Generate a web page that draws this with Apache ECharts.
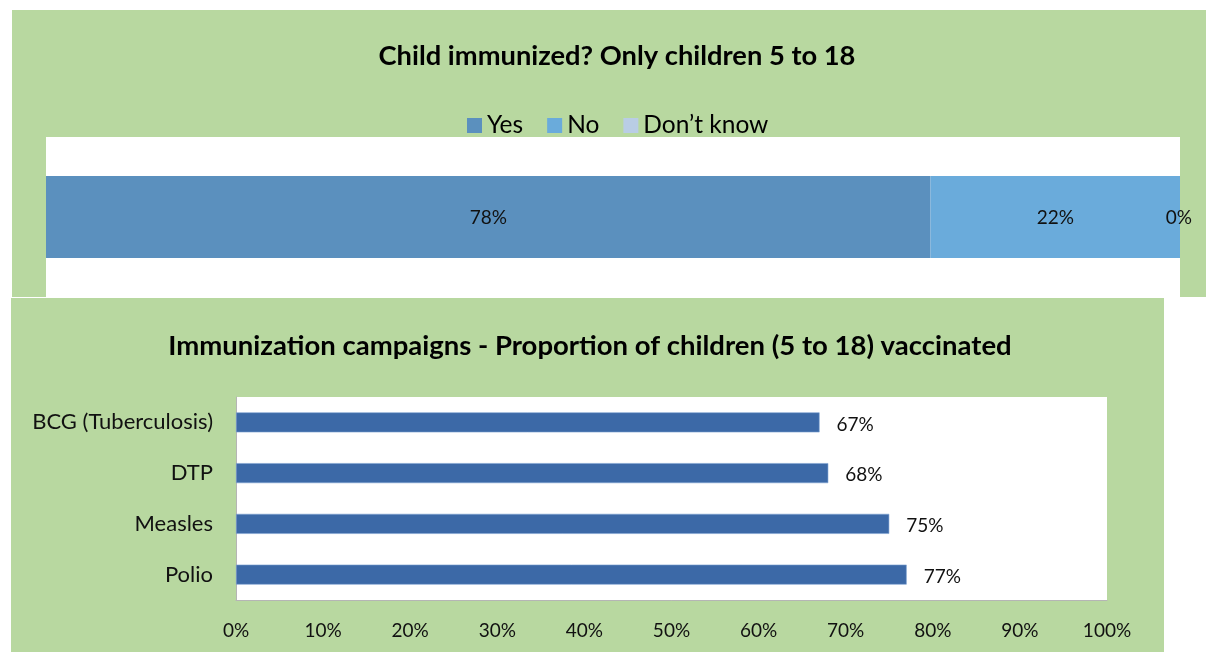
<!DOCTYPE html>
<html>
<head>
<meta charset="utf-8">
<script src="https://cdn.jsdelivr.net/npm/echarts@6/dist/echarts.min.js"></script>
<style>
  html, body { margin: 0; padding: 0; background: #ffffff; }
  #chart { width: 1206px; height: 652px; }
</style>
</head>
<body>
<div id="chart"></div>
<script>
// Top chart: immunization status of children 5 to 18 (100% stacked)
const statusNames = ['Yes', 'No', 'Don\u2019t know'];
const statusValues = [78, 22, 0];
const statusColors = ['#5b90be', '#6aabdb', '#b9cde5'];

// Bottom chart: vaccination campaign coverage
const vaccineNames = ['BCG (Tuberculosis)', 'DTP', 'Measles', 'Polio'];
const vaccineValues = [67, 68, 75, 77];
const axisTicks = [0, 10, 20, 30, 40, 50, 60, 70, 80, 90, 100];

const FONT = 'Lato, "Open Sans", sans-serif';
const GREEN = '#b8d8a0';

const chart = echarts.init(document.getElementById('chart'), null, { renderer: 'canvas' });

const lastIdx = statusValues.length - 1;
const topSeries = statusNames.map((name, i) => ({
  name: name,
  type: 'bar',
  stack: 'status',
  xAxisIndex: 0,
  yAxisIndex: 0,
  barWidth: 82,
  data: [statusValues[i]],
  itemStyle: { color: statusColors[i] },
  label: {
    show: true,
    position: i === lastIdx ? 'insideRight' : 'inside',
    offset: i === lastIdx ? [17, 1] : [0, 1],
    formatter: p => p.value + '%',
    color: '#111',
    fontSize: 19,
    fontFamily: FONT
  },
  emphasis: { disabled: true }
}));

chart.setOption({
  animation: false,
  graphic: [
    { type: 'rect', shape: { x: 12, y: 10, width: 1194, height: 287 }, style: { fill: GREEN }, z: -10 },
    { type: 'rect', shape: { x: 11, y: 298, width: 1153, height: 354 }, style: { fill: GREEN }, z: -10 }
  ],
  title: [
    {
      text: 'Child immunized? Only children 5 to 18',
      left: 612, top: 38, textAlign: 'center',
      textStyle: { fontFamily: FONT, fontWeight: 'bold', fontSize: 27.3, color: '#000' }
    },
    {
      text: 'Immunization campaigns - Proportion of children (5 to 18) vaccinated',
      left: 585, top: 327, textAlign: 'center',
      textStyle: { fontFamily: FONT, fontWeight: 'bold', fontSize: 27.5, color: '#000' }
    }
  ],
  legend: {
    data: statusNames,
    left: 462, top: 108,
    icon: 'rect', itemWidth: 15, itemHeight: 15, itemGap: 24,
    textStyle: { fontFamily: FONT, fontSize: 24.5, color: '#000' },
    selectedMode: false
  },
  grid: [
    { left: 46, right: 26, top: 137, bottom: 355, show: true, backgroundColor: '#ffffff', borderWidth: 0 },
    { left: 236, right: 99, top: 397, bottom: 52, show: true, backgroundColor: '#ffffff', borderWidth: 0 }
  ],
  xAxis: [
    { gridIndex: 0, type: 'value', min: 0, max: 100, show: false },
    {
      gridIndex: 1, type: 'value', min: 0, max: 100, interval: 10,
      axisLine: { show: true, lineStyle: { color: '#b5b5b5', width: 1 } },
      axisTick: { show: false },
      splitLine: { show: false },
      axisLabel: {
        margin: 21, color: '#111', fontSize: 19, fontFamily: FONT,
        formatter: v => axisTicks.includes(v) ? v + '%' : ''
      }
    }
  ],
  yAxis: [
    { gridIndex: 0, type: 'category', data: [''], show: false },
    {
      gridIndex: 1, type: 'category', data: vaccineNames, inverse: true,
      axisLine: { show: true, lineStyle: { color: '#b5b5b5', width: 1 } },
      axisTick: { show: false },
      axisLabel: { margin: 23, color: '#111', fontSize: 22, fontFamily: FONT, padding: [6, 0, 0, 0] }
    }
  ],
  series: topSeries.concat([
    {
      name: 'Vaccinated',
      type: 'bar',
      xAxisIndex: 1,
      yAxisIndex: 1,
      barWidth: 20,
      data: vaccineValues,
      itemStyle: { color: '#3c69a7', borderColor: '#7ea3d2', borderWidth: 0.6 },
      label: {
        show: true, position: 'right', distance: 17, offset: [0, 2],
        formatter: p => p.value + '%',
        color: '#111', fontSize: 19, fontFamily: FONT
      },
      emphasis: { disabled: true }
    }
  ])
});
</script>
</body>
</html>
